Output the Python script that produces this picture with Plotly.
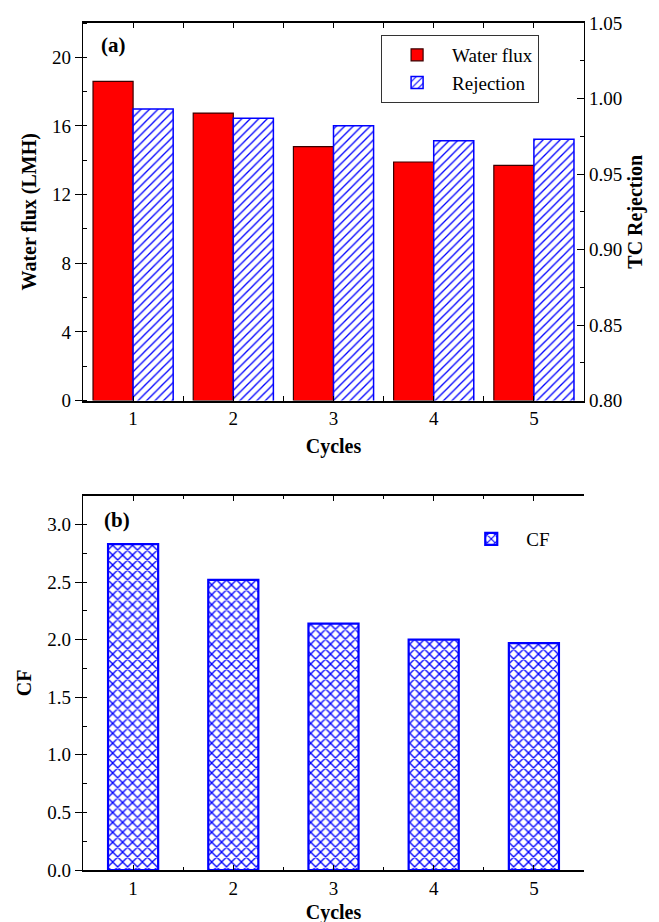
import plotly.graph_objects as go

cycles = [1, 2, 3, 4, 5]
water_flux = [18.6, 16.75, 14.8, 13.9, 13.7]
rejection = [0.993, 0.987, 0.982, 0.972, 0.973]
cf = [2.83, 2.52, 2.14, 2.00, 1.97]

FONT = "Liberation Serif"
tickfont = dict(family=FONT, size=19, color="black")
titlefont = dict(family=FONT, size=20, color="black", weight="bold")

fig = go.Figure()

fig.add_trace(go.Bar(
    x=cycles, y=water_flux, name="Water flux", xaxis="x", yaxis="y",
    offset=-0.4, width=0.4,
    marker=dict(color="#FF0000", line=dict(color="#3a0000", width=1.2)),
    legend="legend",
))
fig.add_trace(go.Bar(
    x=cycles, y=rejection, name="Rejection", xaxis="x", yaxis="y2",
    offset=0.0, width=0.4,
    marker=dict(color="white", line=dict(color="#0000FF", width=1.5),
                pattern=dict(shape="/", fgcolor="#0000FF", bgcolor="white",
                             size=6, solidity=0.22, fgopacity=1)),
    legend="legend",
))
fig.add_trace(go.Bar(
    x=cycles, y=cf, name="CF", xaxis="x3", yaxis="y3",
    width=0.5,
    marker=dict(color="white", line=dict(color="#0000FF", width=2.2),
                pattern=dict(shape="x", fgcolor="#0000FF", bgcolor="white",
                             size=7, solidity=0.35, fgopacity=1)),
    legend="legend2",
))

def xaxis_style(standoff):
    return dict(
        range=[0.5, 5.5], tickvals=cycles, ticks="inside", ticklen=5, tickwidth=1.2,
        tickcolor="black", showline=True, linecolor="black", linewidth=2,
        mirror="allticks", showgrid=False, zeroline=False, tickfont=tickfont,
        automargin=False,
        minor=dict(dtick=0.5, tick0=0.5, ticks="inside", ticklen=3, tickcolor="black", showgrid=False),
        title=dict(text="Cycles", font=titlefont, standoff=standoff),
    )

fig.update_layout(
    width=659, height=922,
    margin=dict(l=75, r=83, t=15, b=60, autoexpand=False),
    paper_bgcolor="white", plot_bgcolor="white",
    barmode="overlay",
    xaxis=dict(domain=[0, 1], anchor="y", **xaxis_style(11)),
    yaxis=dict(domain=[0.5543, 1], anchor="x", range=[0, 22], dtick=4,
               ticks="outside", ticklen=7, tickwidth=1.2, tickcolor="black",
               showline=True, linecolor="black", linewidth=1.2, automargin=False,
               showgrid=False, zeroline=False, tickfont=tickfont,
               minor=dict(dtick=2, ticks="inside", ticklen=4, tickcolor="black", showgrid=False),
               title=dict(text="Water flux (LMH)", font=titlefont, standoff=10)),
    yaxis2=dict(overlaying="y", side="right", anchor="x", range=[0.80, 1.05],
                dtick=0.05, tickformat=".2f", ticks="inside", ticklen=7, tickwidth=1.2,
                tickcolor="black", showline=True, linecolor="black", linewidth=1.2,
                showgrid=False, zeroline=False, tickfont=tickfont, automargin=False,
                minor=dict(dtick=0.025, ticks="inside", ticklen=4, tickcolor="black", showgrid=False),
                title=dict(text="TC Rejection", font=titlefont, standoff=6)),
    xaxis3=dict(domain=[0, 1], anchor="y3", **xaxis_style(7)),
    yaxis3=dict(domain=[0, 0.4419], anchor="x3", range=[0, 3.25], dtick=0.5,
                tickformat=".1f", ticks="outside", ticklen=7, tickwidth=1.2,
                tickcolor="black", showline=True, linecolor="black", linewidth=1.2,
                showgrid=False, zeroline=False, tickfont=tickfont, automargin=False,
                minor=dict(dtick=0.25, ticks="inside", ticklen=4, tickcolor="black", showgrid=False),
                title=dict(text="CF", font=titlefont, standoff=10)),
    yaxis5=dict(overlaying="y3", side="right", anchor="x3", range=[0, 3.25],
                dtick=0.25, ticks="inside", ticklen=5, tickwidth=1.2, tickcolor="black",
                showticklabels=False, showline=True, linecolor="black", linewidth=1.2,
                showgrid=False, zeroline=False, automargin=False),
    legend=dict(x=0.595, y=0.9858, xanchor="left", yanchor="top",
                bordercolor="#333333", borderwidth=1, bgcolor="white",
                font=dict(family=FONT, size=19, color="black"),
                itemwidth=60, tracegroupgap=2),
    legend2=dict(x=0.745, y=0.4132, xanchor="left", yanchor="top",
                 borderwidth=0, bgcolor="rgba(0,0,0,0)",
                 font=dict(family=FONT, size=19, color="black"),
                 itemwidth=60),
    annotations=[
        dict(text="(a)", xref="paper", yref="paper", x=0.06, y=0.974,
             xanchor="center", yanchor="middle",
             showarrow=False, font=dict(family=FONT, size=21, color="black", weight="bold")),
        dict(text="(b)", xref="paper", yref="paper", x=0.068, y=0.4136,
             xanchor="center", yanchor="middle",
             showarrow=False, font=dict(family=FONT, size=21, color="black", weight="bold")),
    ],
)

fig.write_html("out.html")
